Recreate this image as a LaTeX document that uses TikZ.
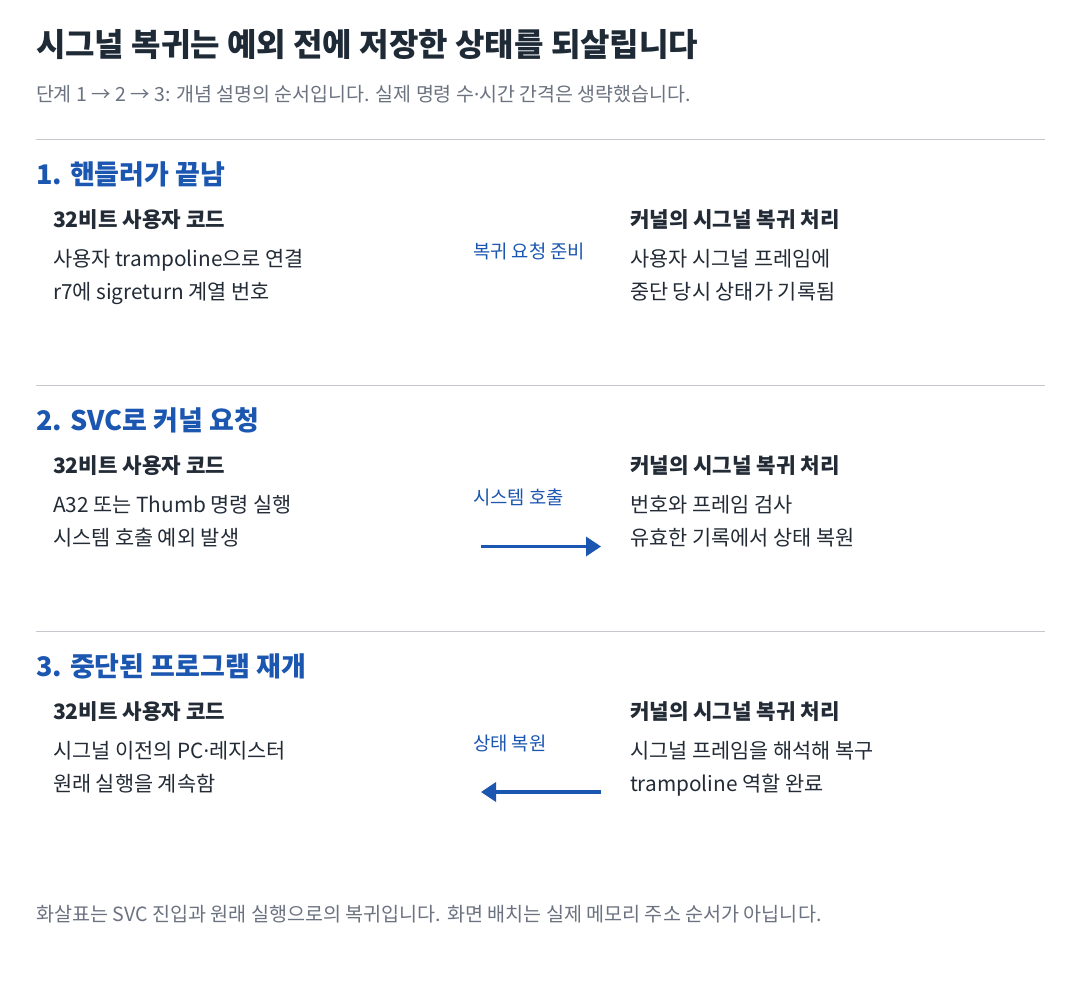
\documentclass[tikz,border=0pt]{standalone}
\usepackage{fontspec}
\setmainfont{Noto Sans CJK KR}
\newfontfamily\lat{Noto Sans}
\usetikzlibrary{arrows.meta}
\definecolor{ttl}{HTML}{1F2A37}
\definecolor{body}{HTML}{222B36}
\definecolor{gry}{HTML}{6B7280}
\definecolor{rule}{HTML}{C4C8CC}
\definecolor{blu}{HTML}{1B56B0}
\newcommand{\mdot}{{\lat ·}}
\tikzset{
  txt/.style={anchor=base west, inner sep=0pt, outer sep=0pt},
  title/.style={txt, text=ttl, font=\fontsize{32}{38}\selectfont\bfseries},
  sub/.style={txt, text=gry, font=\fontsize{19.5}{24}\selectfont},
  foot/.style={txt, text=gry, font=\fontsize{19.6}{24}\selectfont},
  head/.style={txt, text=blu, font=\fontsize{27}{32}\selectfont\bfseries},
  colhead/.style={txt, text=body, font=\fontsize{21.2}{25}\selectfont\bfseries},
  line/.style={txt, text=body, font=\fontsize{20.8}{25}\selectfont},
  lbl/.style={txt, text=blu, font=\fontsize{18.8}{23}\selectfont},
  sep/.style={draw=rule, line width=1.2pt},
  flow/.style={draw=blu, line width=3.5pt, -{Triangle[length=15pt,width=19pt]}},
}
\begin{document}
\begin{tikzpicture}[x=1pt,y=-1pt]
\useasboundingbox (0,0) rectangle (1080,990);
\fill[white] (0,0) rectangle (1080,990);
\node[title] (t) at (36,57) {시그널 복귀는 예외 전에 저장한 상태를 되살립니다};
\node[sub] (st) at (36,102) {단계 1 → 2 → 3: 개념 설명의 순서입니다. 실제 명령 수\mdot 시간 간격은 생략했습니다.};
% rules
\coordinate (r1a) at (36,139.5); \coordinate (r1b) at (1045,139.5);
\coordinate (r2a) at (36,385.5); \coordinate (r2b) at (1045,385.5);
\coordinate (r3a) at (36,631.5); \coordinate (r3b) at (1045,631.5);
\draw[sep] (r1a) -- (r1b);
\draw[sep] (r2a) -- (r2b);
\draw[sep] (r3a) -- (r3b);
% section 1
\node[head] (h1) at (36,184) {1. 핸들러가 끝남};
\node[colhead] (u1) at (53,227) {32비트 사용자 코드};
\node[line] (u1a) at (53,266) {사용자 trampoline으로 연결};
\node[line] (u1b) at (53,299) {r7에 sigreturn 계열 번호};
\node[lbl] (l1) at (473,258) {복귀 요청 준비};
\node[colhead] (k1) at (630,227) {커널의 시그널 복귀 처리};
\node[line] (k1a) at (630,266) {사용자 시그널 프레임에};
\node[line] (k1b) at (630,299) {중단 당시 상태가 기록됨};
% section 2
\node[head] (h2) at (36,430) {2. SVC로 커널 요청};
\node[colhead] (u2) at (53,473) {32비트 사용자 코드};
\node[line] (u2a) at (53,512) {A32 또는 Thumb 명령 실행};
\node[line] (u2b) at (53,545) {시스템 호출 예외 발생};
\node[lbl] (l2) at (473,504) {시스템 호출};
\node[colhead] (k2) at (630,473) {커널의 시그널 복귀 처리};
\node[line] (k2a) at (630,512) {번호와 프레임 검사};
\node[line] (k2b) at (630,545) {유효한 기록에서 상태 복원};
\coordinate (a2s) at (481,546.5); \coordinate (a2e) at (601,546.5);
\draw[flow] (a2s) -- (a2e);
% section 3
\node[head] (h3) at (36,676) {3. 중단된 프로그램 재개};
\node[colhead] (u3) at (53,719) {32비트 사용자 코드};
\node[line] (u3a) at (53,758) {시그널 이전의 PC\mdot 레지스터};
\node[line] (u3b) at (53,791) {원래 실행을 계속함};
\node[lbl] (l3) at (473,750) {상태 복원};
\node[colhead] (k3) at (630,719) {커널의 시그널 복귀 처리};
\node[line] (k3a) at (630,758) {시그널 프레임을 해석해 복구};
\node[line] (k3b) at (630,791) {trampoline 역할 완료};
\coordinate (a3s) at (601,792); \coordinate (a3e) at (481,792);
\draw[flow] (a3s) -- (a3e);
% footer
\node[foot] (ft) at (36,921) {화살표는 SVC 진입과 원래 실행으로의 복귀입니다. 화면 배치는 실제 메모리 주소 순서가 아닙니다.};
\end{tikzpicture}
\end{document}
